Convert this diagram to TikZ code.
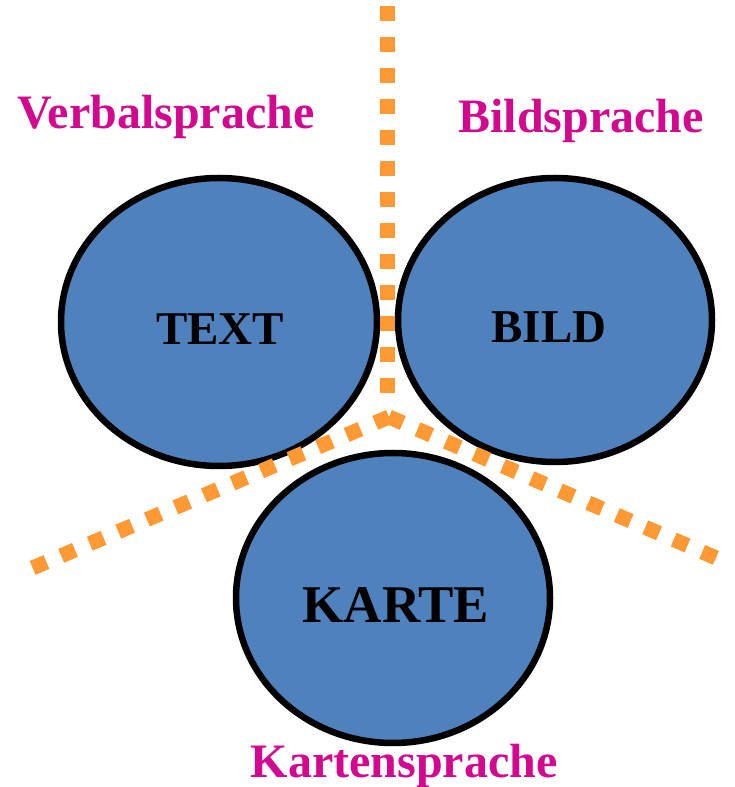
\documentclass[tikz,border=0pt]{standalone}
\usepackage{fontspec}
\setmainfont{Liberation Serif}
\begin{document}
\begin{tikzpicture}[x=1pt,y=1pt,
  blob/.style={draw=black,line width=6.5pt,fill=blobblue},
  lab/.style={text=labmag,font=\bfseries\fontsize{48}{52}\selectfont},
  inner/.style={text=black,font=\bfseries\fontsize{47}{50}\selectfont},
  sep/.style={draw=sepor,line width=15pt,dash pattern=on 15pt off 16pt}]
\definecolor{blobblue}{HTML}{4F81BD}
\definecolor{labmag}{HTML}{D2088F}
\definecolor{sepor}{HTML}{FF9933}
\useasboundingbox (0,0) rectangle (734,787);
\draw[blob] (219,465) ellipse [x radius=158,y radius=144];
\draw[blob] (555,467) ellipse [x radius=157,y radius=142];
\draw[blob] (393,189) ellipse [x radius=157,y radius=145];
\node[inner] (t) at (220,458) {TEXT};
\node[inner] (b) at (549,460) {BILD};
\node[inner,font=\bfseries\fontsize{53}{56}\selectfont] (k) at (396,182) {KARTE};
\node[lab] (v) at (166,670) {Verbalsprache};
\node[lab] (bs) at (581,666) {Bildsprache};
\node[lab] (ks) at (404,21) {Kartensprache};
\coordinate (c) at (389,370);
\coordinate (top) at (387,781);
\coordinate (l) at (30,218);
\coordinate (r) at (728,224);
\draw[sep] (top) -- (387,378);
\draw[sep] (c) -- (l);
\draw[sep] (c) -- (r);
\end{tikzpicture}
\end{document}
